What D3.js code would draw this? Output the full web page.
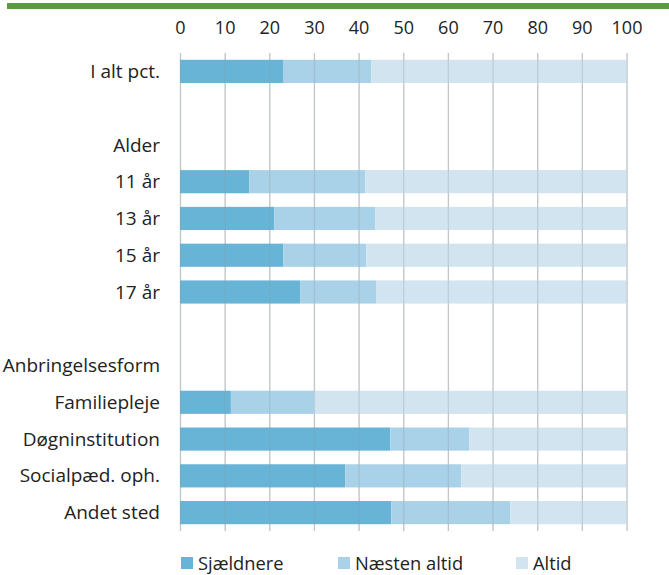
<!DOCTYPE html>
<html>
<head>
<meta charset="utf-8">
<script src="https://cdn.jsdelivr.net/npm/d3@7"></script>
<style>
  body { margin: 0; background: #fff; }
  text { font-family: "Open Sans", sans-serif; fill: #222; }
</style>
</head>
<body>
<div id="chart"></div>
<script>
// rows of the chart, "" = empty spacer row, headers have no bar
var categories = ["I alt pct.", "", "Alder", "11 år", "13 år", "15 år", "17 år", "", "Anbringelsesform",
  "Familiepleje", "Døgninstitution", "Socialpæd. oph.", "Andet sted"]
var seriesNames = ["Sjældnere", "Næsten altid", "Altid"]
var sjaeldnere = [23.2, null, null, 15.5, 21.1, 23.1, 26.9, null, null, 11.4, 47.1, 37.0, 47.3]
var naestenAltid = [19.6, null, null, 26.0, 22.6, 18.6, 17.0, null, null, 18.6, 17.7, 26.0, 26.7]
var altid = [57.2, null, null, 58.5, 56.3, 58.3, 56.1, null, null, 70.0, 35.2, 37.0, 26.0]
var xTicks = [0, 10, 20, 30, 40, 50, 60, 70, 80, 90, 100]

var colors = ["#67b4d6", "#a9d1e7", "#d1e4f0"]

var width = 669, height = 575

var svg = d3.select("#chart")
  .append("svg")
  .attr("width", width)
  .attr("height", height)

// green rule at the top
svg.append("rect")
  .attr("x", 7).attr("y", 3)
  .attr("width", width - 7).attr("height", 6)
  .attr("fill", "#5a9b44")

var x = d3.scaleLinear()
  .domain([0, 100])
  .range([180, 626.5])

var y = d3.scaleBand()
  .domain(d3.range(categories.length))
  .range([53, 531])
  .paddingInner(0.37)
  .paddingOuter(0.185)

// stack data
var rows = categories.map(function (c, i) {
  return { name: c, Sjældnere: sjaeldnere[i], "Næsten altid": naestenAltid[i], Altid: altid[i], i: i }
})
var barRows = rows.filter(function (d) { return d.Sjældnere != null })
var stacked = d3.stack().keys(seriesNames)(barRows)

// gridlines under bars
svg.append("g")
  .selectAll("line")
  .data(xTicks)
  .enter()
  .append("line")
  .attr("x1", function (d) { return x(d) + 0.5 })
  .attr("x2", function (d) { return x(d) + 0.5 })
  .attr("y1", 53)
  .attr("y2", 531)
  .attr("stroke", "#d9d9d9")
  .attr("stroke-width", 1.3)

// bars
svg.append("g")
  .selectAll("g")
  .data(stacked)
  .enter()
  .append("g")
  .attr("fill", function (d, i) { return colors[i] })
  .selectAll("rect")
  .data(function (d) { return d })
  .enter()
  .append("rect")
  .attr("x", function (d) { return x(d[0]) })
  .attr("width", function (d) { return x(d[1]) - x(d[0]) })
  .attr("y", function (d) { return y(d.data.i) })
  .attr("height", y.bandwidth())

// gridlines faintly over the bars
svg.append("g")
  .selectAll("line")
  .data(xTicks)
  .enter()
  .append("line")
  .attr("x1", function (d) { return x(d) + 0.5 })
  .attr("x2", function (d) { return x(d) + 0.5 })
  .attr("y1", 53)
  .attr("y2", 531)
  .attr("stroke", "#8a9aa5")
  .attr("stroke-opacity", 0.3)
  .attr("stroke-width", 1.3)

// top axis labels
var xAxis = svg.append("g")
  .attr("transform", "translate(0,34)")
  .call(d3.axisTop(x).tickValues(xTicks).tickSize(0).tickPadding(0))
xAxis.select(".domain").remove()
xAxis.selectAll("text")
  .style("font-family", "'Open Sans', sans-serif")
  .style("font-size", "18px")
  .attr("fill", "#222")

// category labels
svg.append("g")
  .selectAll("text")
  .data(rows)
  .enter()
  .append("text")
  .attr("x", 160)
  .attr("y", function (d) { return y(d.i) + y.bandwidth() / 2 })
  .attr("dy", "0.35em")
  .attr("text-anchor", "end")
  .style("font-size", "19px")
  .text(function (d) { return d.name })

// legend
var legendX = [181, 338, 516]
var legend = svg.append("g")
  .selectAll("g")
  .data(seriesNames)
  .enter()
  .append("g")
  .attr("transform", function (d, i) { return "translate(" + legendX[i] + ",557)" })
legend.append("rect")
  .attr("width", 12).attr("height", 12)
  .attr("fill", function (d, i) { return colors[i] })
legend.append("text")
  .attr("x", 17)
  .attr("y", 12.5)
  .style("font-size", "18.3px")
  .text(function (d) { return d })
</script>
</body>
</html>
